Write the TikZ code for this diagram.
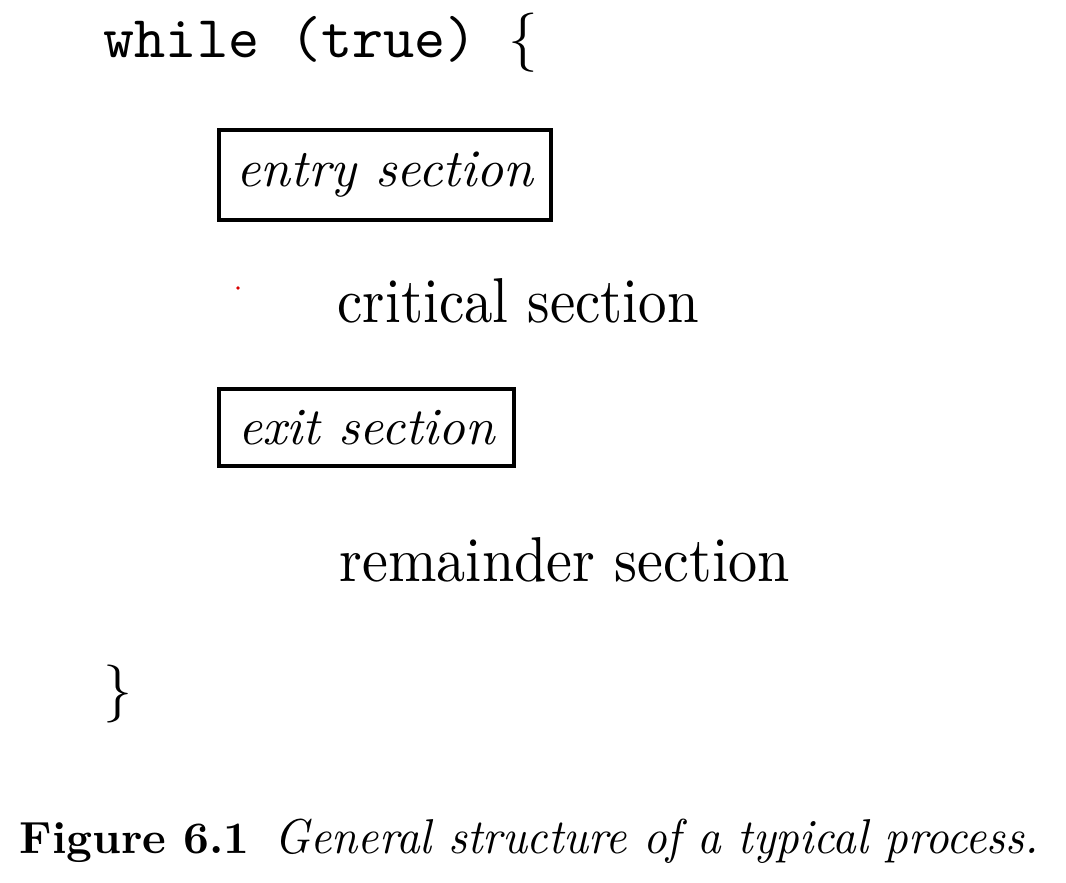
\documentclass[tikz,border=0pt]{standalone}
\usepackage{fontspec}
\usepackage{graphicx}
\newcommand{\fitw}[2]{\resizebox{#1}{!}{#2}}
\tikzset{
  txt/.style={inner sep=0pt, anchor=base west, text=black},
  secbox/.style={draw=black, line width=0.9pt, inner sep=0pt, anchor=center, text=black},
}
\begin{document}
\begin{tikzpicture}
  \fill[white] (0,0) rectangle (10.66,-8.82);
  \useasboundingbox (0,0) rectangle (10.66,-8.82);
  % code lines
  \node[txt] (while) at (1.03,-0.57) {\fitw{4.34cm}{\texttt{while (true) }\{}};
  \node[secbox, minimum width=3.32cm, minimum height=0.90cm] (entry) at (3.85,-1.75)
    {\fitw{2.97cm}{\itshape entry section}};
  \node[txt] (crit) at (3.37,-3.22) {\resizebox{3.61cm}{0.44cm}{critical section}};
  \node[secbox, minimum width=2.95cm, minimum height=0.77cm] (exit) at (3.665,-4.275)
    {\fitw{2.57cm}{\itshape exit section}};
  \node[txt] (rem) at (3.39,-5.81) {\resizebox{4.50cm}{0.44cm}{remainder section}};
  \node[txt] (close) at (1.03,-7.085) {\fontsize{16.5}{18}\selectfont\}};
  % stray dot
  \fill[red!85!black] (2.38,-2.88) circle (0.018);
  % caption
  \node[txt] (fig) at (0.19,-8.53) {\fitw{2.30cm}{\bfseries Figure 6.1}};
  \node[txt] (cap) at (2.74,-8.53) {\resizebox{7.64cm}{0.345cm}{\itshape General structure of a typical process.}};
\end{tikzpicture}
\end{document}
